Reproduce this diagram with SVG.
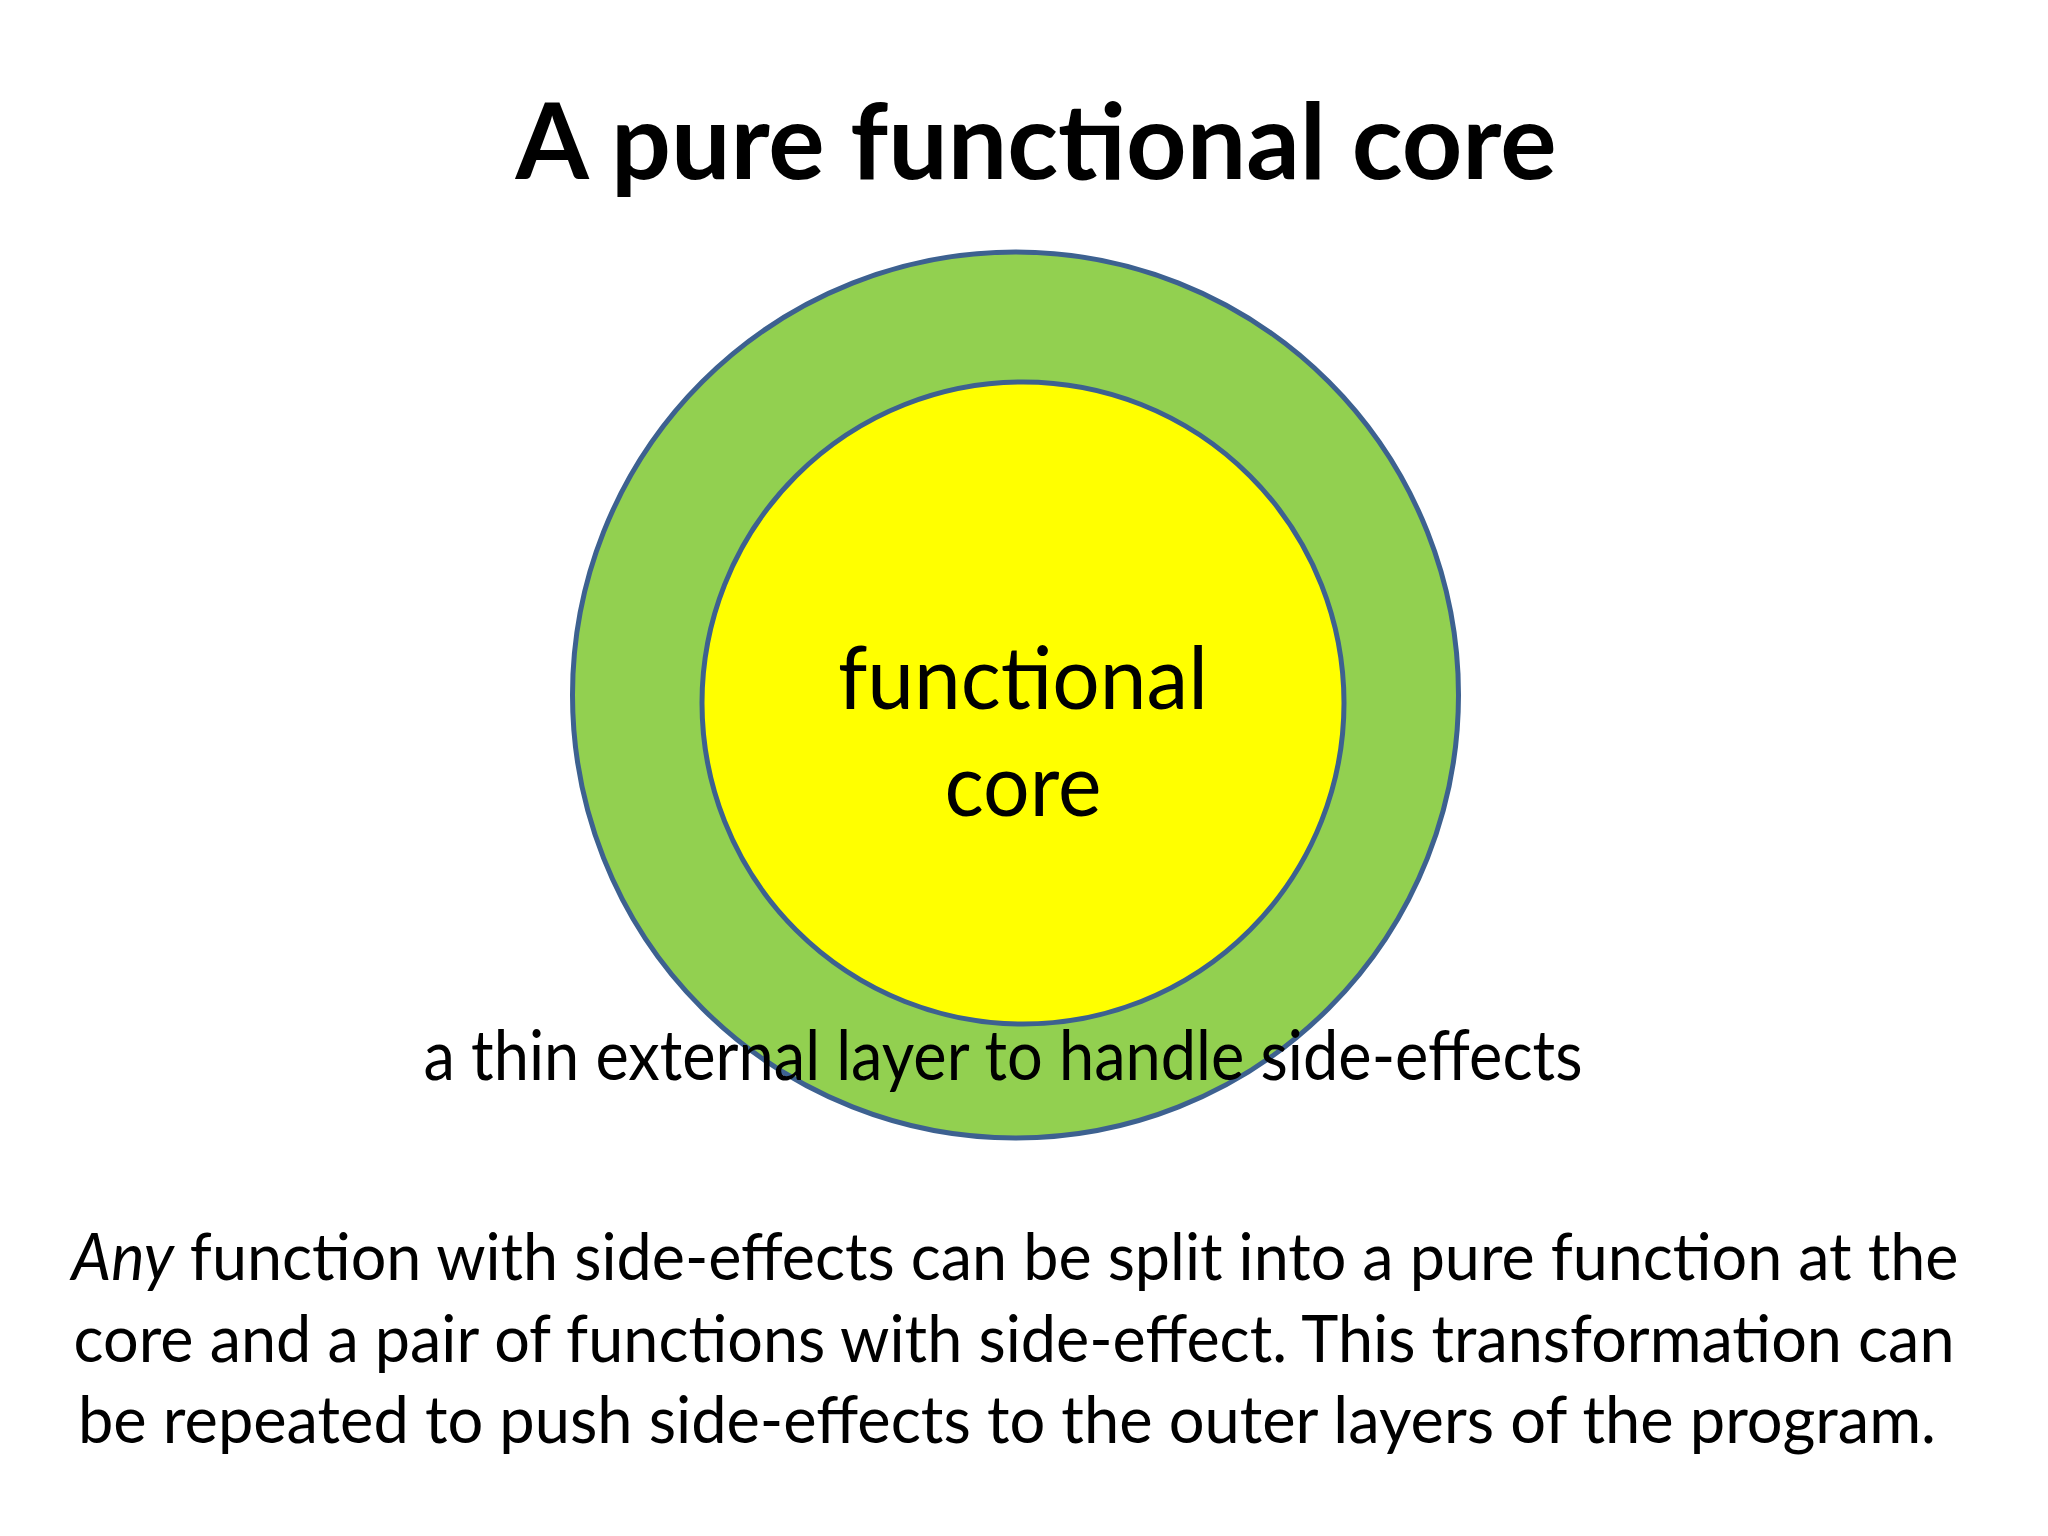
<svg xmlns="http://www.w3.org/2000/svg" width="2048" height="1536" viewBox="0 0 2048 1536">
<style>
.t{font-family:Lato,"Open Sans","Liberation Sans",sans-serif;fill:#000}
.ring{stroke:#3d6190;stroke-width:5}
</style>
<rect width="2048" height="1536" fill="#fff"/>
<text id="title" class="t" x="1036" y="179" font-size="106" font-weight="bold" text-anchor="middle" textLength="1041" lengthAdjust="spacingAndGlyphs">A pure functional core</text>
<g id="outer-layer">
<circle class="ring" cx="1015.5" cy="695" r="443" fill="#92d050"/>
</g>
<g id="functional-core">
<circle class="ring" cx="1023" cy="703" r="321" fill="#ffff00"/>
<text class="t" x="1023" y="709" font-size="88" text-anchor="middle" textLength="370" lengthAdjust="spacingAndGlyphs">functional</text>
<text class="t" x="1023" y="816" font-size="88" text-anchor="middle" textLength="157" lengthAdjust="spacingAndGlyphs">core</text>
</g>
<g id="connectors"/>
<g id="layer-label">
<text class="t" x="1003" y="1080" font-size="70" text-anchor="middle" textLength="1159" lengthAdjust="spacingAndGlyphs">a thin external layer to handle side-effects</text>
</g>
<g id="caption">
<text class="t" x="1015" y="1280" font-size="66" text-anchor="middle" textLength="1887" lengthAdjust="spacingAndGlyphs"><tspan font-style="italic">Any</tspan> function with side-effects can be split into a pure function at the</text>
<text class="t" x="1014" y="1362" font-size="66" text-anchor="middle" textLength="1881" lengthAdjust="spacingAndGlyphs">core and a pair of functions with side-effect. This transformation can</text>
<text class="t" x="1007" y="1443" font-size="66" text-anchor="middle" textLength="1858" lengthAdjust="spacingAndGlyphs">be repeated to push side-effects to the outer layers of the program.</text>
</g>
</svg>
